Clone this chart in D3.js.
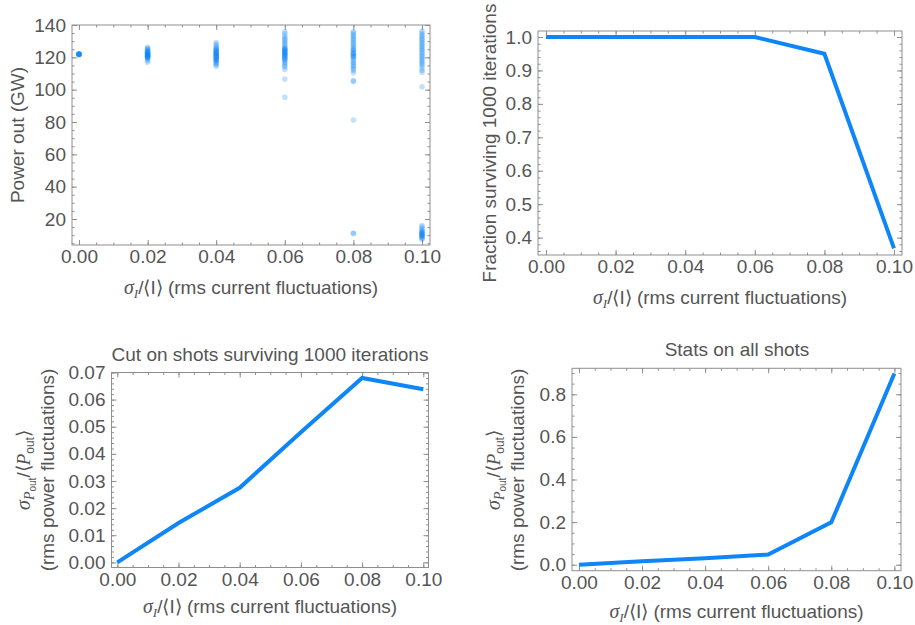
<!DOCTYPE html>
<html>
<head>
<meta charset="utf-8">
<script src="https://cdn.jsdelivr.net/npm/d3@7"></script>
<style>
  html, body { margin: 0; padding: 0; background: #fff; }
  svg { display: block; }
  text { font-family: "Liberation Sans", Arial, sans-serif; fill: #555; }
</style>
</head>
<body>
<svg id="chart" width="915" height="625"></svg>
<script>
// ---------------- DATA ----------------
const sigmaI = [0, 0.02, 0.04, 0.06, 0.08, 0.10];
const xTickLabels = ["0.00", "0.02", "0.04", "0.06", "0.08", "0.10"];

// power out (GW) for each shot, per current-fluctuation level
const power000 = [121.8, 121.9, 122.0, 121.9, 121.8, 122.0, 121.9, 121.8, 121.9, 122.0];
const power002 = [117.0, 118.0, 119.0, 119.5, 120.0, 120.2, 120.5, 120.8, 121.0, 121.2, 121.5, 121.7, 122.0, 122.3, 122.5, 122.8, 123.0, 123.2, 123.5, 124.0, 124.5, 125.0, 125.5, 126.2, 121.4, 120.6];
const power004 = [114.5, 115.5, 116.0, 117.0, 117.5, 118.0, 118.5, 118.7, 119.0, 119.5, 120.0, 120.3, 120.5, 121.0, 121.2, 121.5, 122.0, 122.5, 122.8, 123.0, 123.5, 123.7, 124.0, 124.5, 125.0, 125.5, 126.0, 127.0, 128.0, 129.2];
const power006 = [95.3, 106.6, 112.5, 114.0, 115.0, 116.0, 117.0, 118.0, 118.5, 119.0, 119.6, 120.0, 120.5, 121.0, 121.5, 121.7, 122.0, 122.5, 123.0, 123.3, 123.5, 124.0, 124.5, 124.8, 125.0, 125.5, 126.0, 127.0, 128.0, 129.0, 130.0, 131.0, 132.0, 133.0, 134.5, 135.8];
const power008 = [11.0, 11.2, 81.2, 105.0, 105.6, 110.5, 112.0, 113.0, 114.0, 115.0, 116.0, 117.0, 118.0, 119.0, 120.0, 120.5, 121.0, 121.5, 122.0, 122.5, 123.0, 124.0, 124.5, 125.0, 126.0, 127.0, 128.0, 129.0, 130.0, 131.0, 132.0, 133.0, 134.0, 135.0, 135.8];
const power010 = [7.5, 8.0, 8.5, 9.0, 9.5, 10.0, 10.0, 10.5, 11.0, 11.0, 11.5, 12.0, 12.5, 13.0, 14.0, 15.0, 16.0, 101.8, 110.8, 112.0, 113.5, 115.0, 116.0, 117.0, 118.0, 119.0, 120.0, 121.0, 122.0, 123.0, 124.0, 125.0, 126.0, 127.0, 128.0, 129.0, 130.0, 131.0, 132.0, 133.0, 134.0, 135.0, 136.3];
const powerSets = [power000, power002, power004, power006, power008, power010];

const survivalFraction = [1.0, 1.0, 1.0, 1.0, 0.95, 0.368];
const rmsPowerCut = [0.0, 0.0145, 0.0275, 0.048, 0.068, 0.0638];
const rmsPowerAll = [0.0, 0.016, 0.030, 0.048, 0.199, 0.898];

const powerTicks = [20, 40, 60, 80, 100, 120, 140];
const fractionTicks = [0.4, 0.5, 0.6, 0.7, 0.8, 0.9, 1.0];
const cutTicks = [0.00, 0.01, 0.02, 0.03, 0.04, 0.05, 0.06, 0.07];
const allTicks = [0.0, 0.2, 0.4, 0.6, 0.8];

// ---------------- STYLE ----------------
const BLUE = "#0f86f7";
const FRAME = "#8f8f8f";
const TXT = "#555";
const FS = 19;

const svg = d3.select("#chart");

function minorTicks(domain, step) {
  const out = [];
  const start = Math.ceil(domain[0] / step - 1e-9);
  const end = Math.floor(domain[1] / step + 1e-9);
  for (let i = start; i <= end; i++) out.push(+(i * step).toFixed(6));
  return out;
}

function panel(cfg) {
  const { left, right, top, bottom, xDom, yDom, yTicks, yFmt, yMinor } = cfg;
  const x = d3.scaleLinear().domain(xDom).range([left, right]);
  const y = d3.scaleLinear().domain(yDom).range([bottom, top]);
  const g = svg.append("g");

  const xMinor = minorTicks(xDom, 0.005);
  const yMin = minorTicks(yDom, yMinor);

  function styleAxis(sel) {
    sel.select(".domain").remove();
    sel.selectAll(".tick line").attr("stroke", FRAME).attr("stroke-width", 1);
    sel.selectAll(".tick text").attr("fill", TXT).style("font-size", FS + "px")
      .style("font-family", '"Liberation Sans", Arial, sans-serif');
  }
  // bottom
  g.append("g").attr("transform", `translate(0,${bottom})`)
    .call(d3.axisBottom(x).tickValues(xMinor).tickSize(-2.5).tickFormat("")).call(styleAxis);
  g.append("g").attr("transform", `translate(0,${bottom})`)
    .call(d3.axisBottom(x).tickValues(sigmaI).tickSize(-5).tickPadding(5)
      .tickFormat((d, i) => xTickLabels[i])).call(styleAxis);
  // top
  g.append("g").attr("transform", `translate(0,${top})`)
    .call(d3.axisTop(x).tickValues(xMinor).tickSize(-2.5).tickFormat("")).call(styleAxis);
  g.append("g").attr("transform", `translate(0,${top})`)
    .call(d3.axisTop(x).tickValues(sigmaI).tickSize(-5).tickFormat("")).call(styleAxis);
  // left
  g.append("g").attr("transform", `translate(${left},0)`)
    .call(d3.axisLeft(y).tickValues(yMin).tickSize(-2.5).tickFormat("")).call(styleAxis);
  g.append("g").attr("transform", `translate(${left},0)`)
    .call(d3.axisLeft(y).tickValues(yTicks).tickSize(-5).tickPadding(6).tickFormat(yFmt)).call(styleAxis);
  // right
  g.append("g").attr("transform", `translate(${right},0)`)
    .call(d3.axisRight(y).tickValues(yMin).tickSize(-2.5).tickFormat("")).call(styleAxis);
  g.append("g").attr("transform", `translate(${right},0)`)
    .call(d3.axisRight(y).tickValues(yTicks).tickSize(-5).tickFormat("")).call(styleAxis);

  g.append("rect").attr("x", left).attr("y", top)
    .attr("width", right - left).attr("height", bottom - top)
    .attr("fill", "none").attr("stroke", FRAME).attr("stroke-width", 1);

  // x axis title: σ_I/⟨I⟩ (rms current fluctuations)
  const xt = g.append("text").attr("x", (left + right) / 2).attr("y", bottom + cfg.xTitleDy)
    .attr("text-anchor", "middle").style("font-size", FS + "px").attr("fill", TXT);
  xt.append("tspan").text("σ").style("font-family", '"Liberation Serif", serif').style("font-style", "italic")
    .style("font-size", (FS + 1) + "px");
  xt.append("tspan").text("I").style("font-family", '"Liberation Serif", serif').style("font-style", "italic")
    .style("font-size", "13px").attr("dy", 4);
  xt.append("tspan").text("/⟨I⟩ (rms current fluctuations)").attr("dy", -4);

  const clipId = "clip" + Math.round(left) + Math.round(top);
  svg.append("clipPath").attr("id", clipId).append("rect")
    .attr("x", left).attr("y", top).attr("width", right - left).attr("height", bottom - top);
  return { g, x, y, clipId };
}

function powerYLabel(g, cx, cy) {
  const t = g.append("text").attr("transform", `translate(${cx},${cy}) rotate(-90)`)
    .attr("text-anchor", "middle").style("font-size", FS + "px").attr("fill", TXT);
  const serif = '"Liberation Serif", serif';
  t.append("tspan").text("σ").style("font-family", serif).style("font-style", "italic").style("font-size", (FS + 1) + "px");
  t.append("tspan").text("P").style("font-family", serif).style("font-style", "italic").style("font-size", "14px").attr("dy", 4);
  t.append("tspan").text("out").style("font-size", "10px").attr("dy", 2);
  t.append("tspan").text("/⟨").attr("dy", -6);
  t.append("tspan").text("P").style("font-family", serif).style("font-style", "italic");
  t.append("tspan").text("out").style("font-size", "12px").attr("dy", 4);
  t.append("tspan").text("⟩").attr("dy", -4);
  g.append("text").attr("transform", `translate(${cx + 24},${cy}) rotate(-90)`)
    .attr("text-anchor", "middle").style("font-size", FS + "px").attr("fill", TXT)
    .text("(rms power fluctuations)");
}

// ---------- Panel 1: scatter ----------
{
  const p = panel({ left: 72, right: 430, top: 25, bottom: 245,
    xDom: [-0.00204, 0.10233], yDom: [3.9, 140], yTicks: powerTicks, yFmt: d3.format("d"),
    yMinor: 5, xTitleDy: 49 });
  const pts = [];
  sigmaI.forEach((s, i) => powerSets[i].forEach(v => pts.push([s, v])));
  p.g.append("g").attr("clip-path", `url(#${p.clipId})`).selectAll("circle").data(pts).join("circle")
    .attr("cx", d => p.x(d[0])).attr("cy", d => p.y(d[1])).attr("r", 2.8)
    .attr("fill", BLUE).attr("fill-opacity", 0.26);
  p.g.append("text").attr("transform", `translate(24,135) rotate(-90)`)
    .attr("text-anchor", "middle").style("font-size", FS + "px").attr("fill", TXT).text("Power out (GW)");
}

// ---------- Panel 2: survival fraction ----------
{
  const p = panel({ left: 538, right: 902, top: 31, bottom: 255,
    xDom: [-0.0023, 0.1023], yDom: [0.348, 1.018], yTicks: fractionTicks, yFmt: d3.format(".1f"),
    yMinor: 0.02, xTitleDy: 49 });
  p.g.append("path").datum(sigmaI.map((s, i) => [s, survivalFraction[i]]))
    .attr("clip-path", `url(#${p.clipId})`)
    .attr("d", d3.line().x(d => p.x(d[0])).y(d => p.y(d[1])))
    .attr("fill", "none").attr("stroke", BLUE).attr("stroke-width", 4).attr("stroke-linejoin", "miter");
  p.g.append("text").attr("transform", `translate(496,143) rotate(-90)`)
    .attr("text-anchor", "middle").style("font-size", FS + "px").attr("fill", TXT)
    .text("Fraction surviving 1000 iterations");
}

// ---------- Panel 3: cut on surviving shots ----------
{
  const p = panel({ left: 111.5, right: 428.5, top: 372.5, bottom: 567.5,
    xDom: [-0.0019, 0.1017], yDom: [-0.0019, 0.0700], yTicks: cutTicks, yFmt: d3.format(".2f"),
    yMinor: 0.002, xTitleDy: 45 });
  p.g.append("path").datum(sigmaI.map((s, i) => [s, rmsPowerCut[i]]))
    .attr("clip-path", `url(#${p.clipId})`)
    .attr("d", d3.line().x(d => p.x(d[0])).y(d => p.y(d[1])))
    .attr("fill", "none").attr("stroke", BLUE).attr("stroke-width", 4);
  p.g.append("text").attr("x", 270).attr("y", 361).attr("text-anchor", "middle")
    .style("font-size", FS + "px").attr("fill", TXT).text("Cut on shots surviving 1000 iterations");
  powerYLabel(p.g, 30, 470);
}

// ---------- Panel 4: all shots ----------
{
  const p = panel({ left: 572, right: 901, top: 368.3, bottom: 570.7,
    xDom: [-0.0022, 0.1021], yDom: [-0.028, 0.922], yTicks: allTicks, yFmt: d3.format(".1f"),
    yMinor: 0.05, xTitleDy: 47 });
  p.g.append("path").datum(sigmaI.map((s, i) => [s, rmsPowerAll[i]]))
    .attr("clip-path", `url(#${p.clipId})`)
    .attr("d", d3.line().x(d => p.x(d[0])).y(d => p.y(d[1])))
    .attr("fill", "none").attr("stroke", BLUE).attr("stroke-width", 4);
  p.g.append("text").attr("x", 737).attr("y", 356).attr("text-anchor", "middle")
    .style("font-size", FS + "px").attr("fill", TXT).text("Stats on all shots");
  powerYLabel(p.g, 500, 470);
}
</script>
</body>
</html>
